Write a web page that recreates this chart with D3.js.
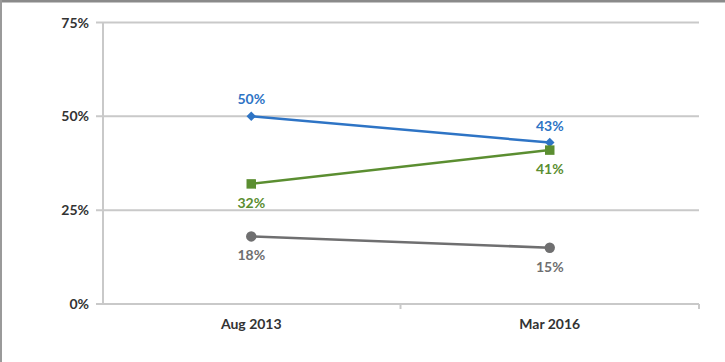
<!DOCTYPE html>
<html>
<head>
<meta charset="utf-8">
<script src="https://cdn.jsdelivr.net/npm/d3@7"></script>
<style>
body { margin: 0; background: #fff; }
svg { display: block; font-family: Lato, "Open Sans", sans-serif; }
</style>
</head>
<body>
<svg id="chart" width="725" height="362"></svg>
<script>
const categories = ['Aug 2013', 'Mar 2016']
const yTicks = [0, 25, 50, 75]
const blueValues = [50, 43]
const greenValues = [32, 41]
const grayValues = [18, 15]

const series = [
    {name: 'blue', values: blueValues, color: '#2e74c5', shape: d3.symbolSquare, size: 45, rotate: 45, labelDy: -12},
    {name: 'green', values: greenValues, color: '#5b8e31', shape: d3.symbolSquare, size: 90, rotate: 0, labelDy: 24},
    {name: 'gray', values: grayValues, color: '#6f6f70', shape: d3.symbolCircle, size: 85, rotate: 0, labelDy: 24}
]

const svg = d3.select('#chart')

// outer frame (top + left edges)
svg.append('rect').attr('x', 0).attr('y', 0).attr('width', 725).attr('height', 2.5).attr('fill', '#8a8a8a')
svg.append('rect').attr('x', 0).attr('y', 0).attr('width', 2).attr('height', 362).attr('fill', '#9a9a9a')

const plotLeft = 102, plotRight = 699, plotTop = 22.5, plotBottom = 304

const x = d3.scaleBand().domain(categories).range([plotLeft, plotRight])
const y = d3.scaleLinear().domain([0, 75]).range([plotBottom, plotTop])

// gridlines
svg.append('g').selectAll('line').data(yTicks).enter().append('line')
    .attr('x1', plotLeft - 6).attr('x2', plotRight)
    .attr('y1', d => y(d)).attr('y2', d => y(d))
    .attr('stroke', '#c9c9c9').attr('stroke-width', 2)

// left axis line
svg.append('line').attr('x1', plotLeft + 1).attr('x2', plotLeft + 1).attr('y1', plotTop).attr('y2', plotBottom)
    .attr('stroke', '#c9c9c9').attr('stroke-width', 2)

// category boundary ticks
svg.append('g').selectAll('line').data(categories.slice(1).concat(['end'])).enter().append('line')
    .attr('x1', d => d === 'end' ? plotRight : x(d)).attr('x2', d => d === 'end' ? plotRight : x(d))
    .attr('y1', plotBottom).attr('y2', plotBottom + 5)
    .attr('stroke', '#c9c9c9').attr('stroke-width', 2)

// y tick labels
svg.append('g').selectAll('text').data(yTicks).enter().append('text')
    .attr('x', plotLeft - 13).attr('y', d => y(d) + 5)
    .attr('text-anchor', 'end')
    .attr('font-size', 14).attr('font-weight', 'bold').attr('fill', '#333')
    .text(d => d + '%')

// x labels
svg.append('g').selectAll('text').data(categories).enter().append('text')
    .attr('x', d => x(d) + x.bandwidth() / 2).attr('y', plotBottom + 25)
    .attr('text-anchor', 'middle')
    .attr('font-size', 14).attr('font-weight', 'bold').attr('fill', '#333')
    .text(d => d)

const cx = i => x(categories[i]) + x.bandwidth() / 2
const line = d3.line().x((d, i) => cx(i)).y(d => y(d))

series.forEach(s => {
    const g = svg.append('g')
    g.append('path').attr('d', line(s.values))
        .attr('fill', 'none').attr('stroke', s.color).attr('stroke-width', 2.5)
    g.selectAll('path.m').data(s.values).enter().append('path')
        .attr('class', 'm')
        .attr('d', d3.symbol().type(s.shape).size(s.size))
        .attr('transform', (d, i) => `translate(${cx(i)},${y(d)}) rotate(${s.rotate})`)
        .attr('fill', s.color)
    g.selectAll('text').data(s.values).enter().append('text')
        .attr('x', (d, i) => cx(i)).attr('y', d => y(d) + s.labelDy)
        .attr('text-anchor', 'middle')
        .attr('font-size', 14).attr('font-weight', 'bold').attr('fill', s.color)
        .text(d => d + '%')
})
</script>
</body>
</html>
